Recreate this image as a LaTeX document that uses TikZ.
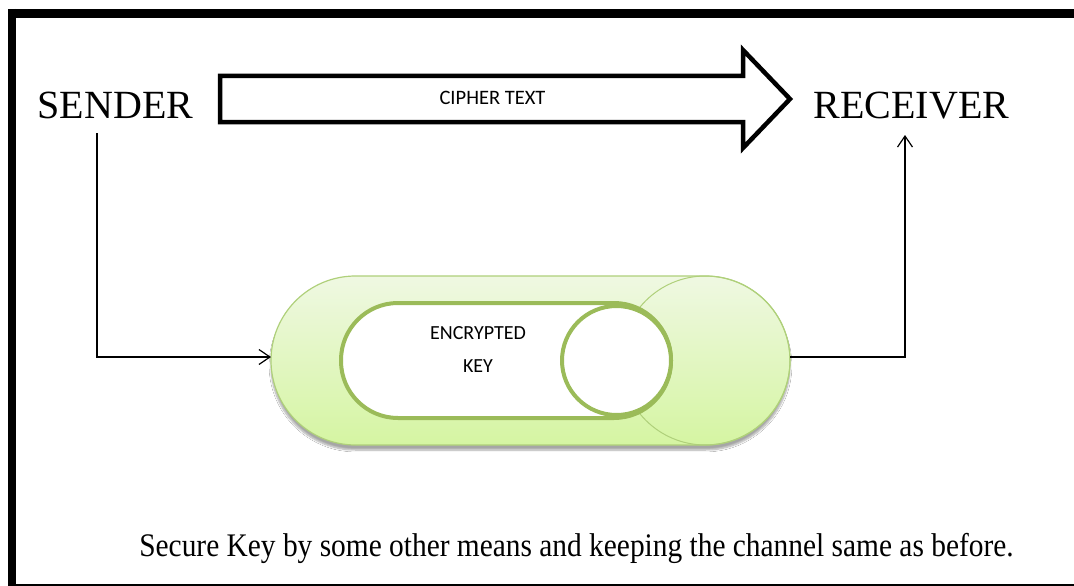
\documentclass[tikz,border=0pt]{standalone}
\usepackage{fontspec}
\setmainfont{Liberation Serif}
\newfontfamily\calib{Carlito}
\usetikzlibrary{arrows.meta,shadows.blur}
\definecolor{kgreen}{HTML}{9BBB59}
\definecolor{klight}{HTML}{AFD07A}
\definecolor{gtop}{HTML}{EFF8E2}
\definecolor{gbot}{HTML}{D5F5A2}
\tikzset{
  bigtext/.style={font=\fontsize{40}{48}\selectfont, inner sep=0pt, anchor=base},
  smalltext/.style={font=\calib\fontsize{20.5}{24}\selectfont, inner sep=0pt},
  conn/.style={line width=1.2pt, -{Straight Barb[length=11pt,width=15pt,line width=1.2pt]}},
  plain/.style={line width=1.2pt},
  fatarrow/.style={line width=4.5pt, draw=black, fill=white, line join=miter},
  ringline/.style={line width=4pt, draw=kgreen, fill=white},
}
\begin{document}
\begin{tikzpicture}[x=1pt,y=-1pt]
\useasboundingbox (0,0) rectangle (1074,586);
\fill[white] (0,0) rectangle (1074,586);
% frame
\draw[line width=9pt] (8,13.5) -- (1074,13.5);
\draw[line width=7.5pt] (11.75,9) -- (11.75,586);
\draw[line width=1.5pt] (8,585) -- (1074,585);

% big arrow
\draw[fatarrow] (220,76) -- (743,76) -- (743,50) -- (790,99) -- (743,148) -- (743,122) -- (220,122) -- cycle;
\node[smalltext] (ct) at (492.5,97.5) {CIPHER TEXT};

% labels
\node[bigtext] (s) at (115.5,118) {SENDER};
\node[bigtext] (r) at (911.5,118) {RECEIVER};

% capsule
\shade[top color=gtop, bottom color=gbot, draw=klight, line width=1.2pt, rounded corners=84.5pt,
  blur shadow={shadow xshift=0pt, shadow yshift=-5pt, shadow blur steps=8, shadow opacity=35}]
  (271,276) rectangle (790,445);
\draw[klight, line width=1pt] (705.5,360.5) circle[radius=84.5];
\draw[ringline, rounded corners=57pt] (341,303) rectangle (671,418);
\draw[ringline] (616.5,360.5) circle[radius=54.5];
\node[smalltext, align=center, font=\calib\fontsize{20}{33}\selectfont] (ek) at (478,350) {ENCRYPTED\\KEY};

\coordinate (capL) at (271,357);
\coordinate (capR) at (790,357);
\coordinate (sdown) at (97,133);
\coordinate (rup) at (905,135);

\draw[conn] (sdown) |- (capL);
\draw[conn] (capR) -| (rup);

% caption
\node[font=\fontsize{29.4}{34}\selectfont, inner sep=0pt, anchor=base] (cap) at (576.5,556)
  {\scalebox{1}[1.12]{Secure Key by some other means and keeping the channel same as before.}};
\end{tikzpicture}
\end{document}
